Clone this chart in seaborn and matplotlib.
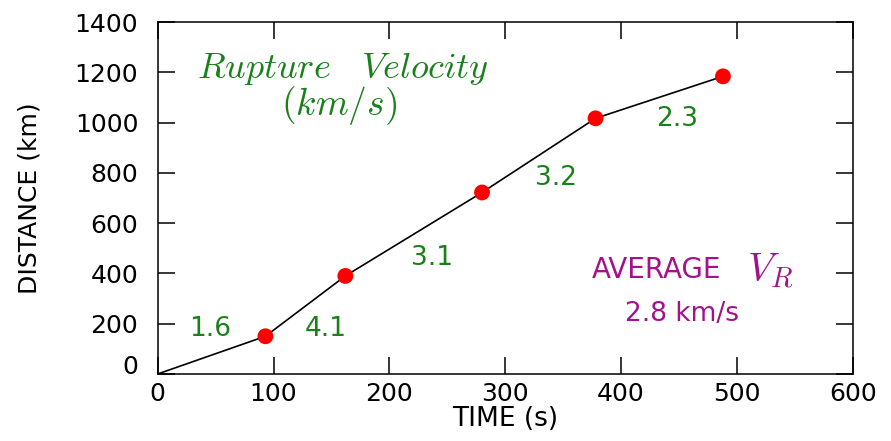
import matplotlib
matplotlib.use("Agg")
import matplotlib.pyplot as plt
import matplotlib.transforms as mtransforms
import seaborn as sns
import pandas as pd

# rupture front positions
time_s = [0, 93, 162, 280, 378, 488]
distance_km = [0, 150, 390, 722, 1017, 1184]

# segment velocities and where they are written
seg_labels = ["1.6", "4.1", "3.1", "3.2", "2.3"]
seg_x = [45, 145, 237, 344, 448]
seg_y = [180, 180, 460, 780, 1015]

df = pd.DataFrame({"time": time_s, "distance": distance_km})

sns.set_style("ticks")
plt.rcParams["font.family"] = ["DejaVu Sans"]
plt.rcParams["mathtext.fontset"] = "cm"
plt.rcParams["text.color"] = "black"
plt.rcParams["axes.labelcolor"] = "black"

fig, ax = plt.subplots(figsize=(8.91, 4.41), dpi=100)
fig.subplots_adjust(left=0.177, right=0.957, top=0.95, bottom=0.152)

sns.lineplot(data=df, x="time", y="distance", color="black", lw=1.2, ax=ax)
sns.scatterplot(data=df.iloc[1:], x="time", y="distance", color="red",
                s=130, edgecolor="none", zorder=3, ax=ax)

green = "#1a801a"
purple = "#a3128a"
for lab, x, y in zip(seg_labels, seg_x, seg_y):
    ax.text(x, y, lab, color=green, fontsize=19, ha="center", va="center")

ax.text(160, 1215, r"$Rupture\ \ \ Velocity$", color=green, fontsize=26,
        ha="center", va="center")
ax.text(157, 1070, r"$(km/s)$", color=green, fontsize=27,
        ha="center", va="center")
ax.text(431, 415, "AVERAGE", color=purple, fontsize=20,
        ha="center", va="center")
ax.text(529, 410, r"$V_R$", color=purple, fontsize=29,
        ha="center", va="center")
ax.text(453, 240, "2.8 km/s", color=purple, fontsize=19,
        ha="center", va="center")

ax.set_xlim(0, 600)
ax.set_ylim(0, 1400)
ax.set_xticks(range(0, 601, 100))
ax.set_yticks(range(0, 1401, 200))
ax.tick_params(direction="in", length=12, width=1.1, top=True, right=True,
               labelsize=18, colors="black")
ax.tick_params(axis="x", pad=6)
ax.tick_params(axis="y", pad=14)
for sp in ax.spines.values():
    sp.set_visible(True)
    sp.set_linewidth(1.1)
    sp.set_color("black")

# lift the "0" label on the y axis a little, as in the original
lab0 = ax.get_yticklabels()[0]
lab0.set_transform(lab0.get_transform() +
                   mtransforms.ScaledTranslation(0, 7 / 72, fig.dpi_scale_trans))

ax.set_xlabel("TIME (s)", fontsize=19, labelpad=0)
ax.set_ylabel("DISTANCE (km)", fontsize=18, labelpad=24)

fig.savefig("out.png", dpi=100)
